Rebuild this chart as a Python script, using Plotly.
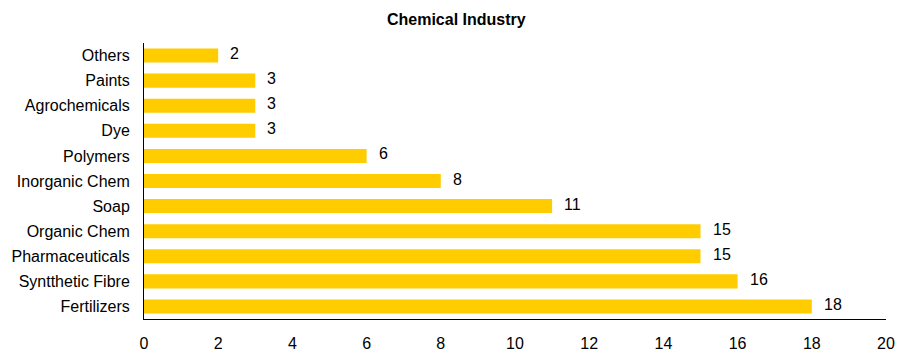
import plotly.graph_objects as go

categories = ["Fertilizers", "Syntthetic Fibre", "Pharmaceuticals", "Organic Chem", "Soap",
              "Inorganic Chem", "Polymers", "Dye", "Agrochemicals", "Paints", "Others"]
values = [18, 16, 15, 15, 11, 8, 6, 3, 3, 3, 2]
x_ticks = list(range(0, 21, 2))

font_family = "Liberation Sans, Arial, sans-serif"

fig = go.Figure(go.Bar(
    x=values,
    y=categories,
    orientation="h",
    marker=dict(color="#FFCC00", line=dict(width=0)),
    width=0.56,
))

# value labels sit a little to the right of each bar end
for v, c in zip(values, categories):
    fig.add_annotation(x=v, y=c, text=str(v), showarrow=False, xanchor="left",
                       xshift=10, yshift=2, font=dict(size=16, color="#000000", family=font_family))

fig.update_layout(
    width=909, height=354,
    margin=dict(l=144, r=23, t=43, b=35, autoexpand=False),
    paper_bgcolor="white", plot_bgcolor="white",
    showlegend=False,
    title=dict(text="<b>Chemical Industry</b>", x=0.502, xanchor="center", y=0.945, yanchor="middle",
               font=dict(size=16, color="#000000", family=font_family)),
    xaxis=dict(range=[0, 20], tickvals=x_ticks, showgrid=False, zeroline=False,
               showline=True, linecolor="#000000", linewidth=1, automargin=False,
               ticks="", ticklabelstandoff=10,
               tickfont=dict(size=16, color="#000000", family=font_family)),
    yaxis=dict(categoryorder="array", categoryarray=categories, range=[-0.5, 10.5],
               showgrid=False, zeroline=False, showline=True, linecolor="#000000", linewidth=1,
               automargin=False, ticks="", ticklabelstandoff=10,
               tickfont=dict(size=16, color="#000000", family=font_family)),
)

fig.write_html("out.html")
